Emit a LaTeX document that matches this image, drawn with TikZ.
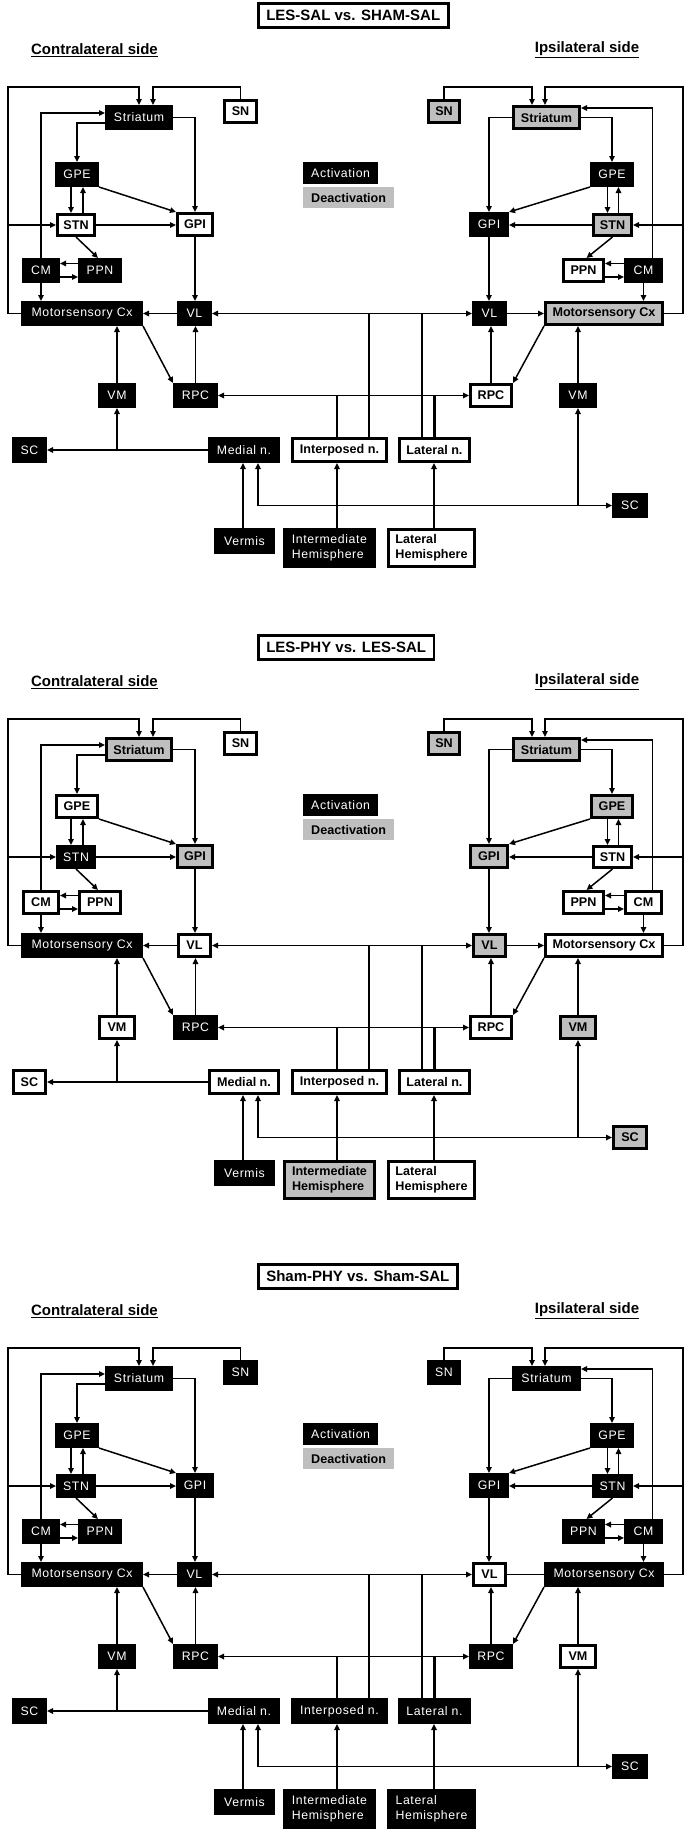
\documentclass[tikz,border=0pt]{standalone}
\usepackage{fontspec}
\setmainfont{Liberation Sans}
\newfontfamily\boxfont[LetterSpace=5]{Liberation Sans}
\usetikzlibrary{arrows.meta,calc}
\tikzset{
  base/.style={rectangle, inner sep=0pt, align=center},
  B/.style={base, fill=black, draw=black, line width=0.6pt, text=white,
    font=\boxfont\fontsize{12.3}{15}\selectfont,
    minimum width={\bw pt-0.6pt}, minimum height={\bh pt-0.6pt}},
  W/.style={base, fill=white, draw=black, line width=2.6pt, text=black,
    font=\fontsize{12.6}{15}\selectfont\bfseries,
    minimum width={\bw pt-2.6pt}, minimum height={\bh pt-2.6pt}},
  G/.style={W, fill=black!25},
  ln/.style={line width=1.5pt, draw=black},
  arr/.style={ln, -{Triangle[length=6pt,width=5.5pt]}},
  darr/.style={ln, {Triangle[length=6pt,width=5.5pt]}-{Triangle[length=6pt,width=5.5pt]}},
  thk/.style={line width=2.6pt, draw=black},
  titlebox/.style={draw=black, line width=2.6pt, fill=white, inner xsep=8pt, inner ysep=0pt,
    minimum height=24.4pt, font=\fontsize{15}{18}\selectfont\bfseries, anchor=west},
  hdr/.style={inner sep=0pt, font=\fontsize{15}{18}\selectfont\bfseries},
  legA/.style={fill=black, text=white, inner xsep=8pt, inner ysep=0pt, minimum height=22pt,
    font=\boxfont\fontsize{12.3}{15}\selectfont, anchor=west},
  legD/.style={fill=black!25, text=black, inner xsep=8pt, inner ysep=0pt, minimum height=21pt,
    font=\fontsize{12.6}{15}\selectfont\bfseries, anchor=west},
}
\newcommand\bx[7][]{\def\bw{#5}\def\bh{#6}\node[c-#2,#1] (#2) at (#3,#4) {#7};}
\newcommand\mypanel[4]{%
\begin{scope}[yshift=-#1pt, name prefix=#3]
\node[titlebox] (T) at (257,15.5) {#2};
\node[hdr] (CS) at (94.5,50) {\underline{Contralateral side}};
\node[hdr] (IS) at (587,50) {\underline{Ipsilateral side}};
\node[legA] (LA) at (303,173) {Activation};
\node[legD] (LD) at (303,197.5) {Deactivation};
% left nodes
\bx{StrL}{139}{117.5}{68}{25}{Striatum}
\bx{SNL}{240.5}{111.5}{35}{25}{SN}
\bx{GPEL}{77}{174.5}{44}{25}{GPE}
\bx{STNL}{76}{225}{40}{24}{STN}
\bx{GPIL}{195}{224.5}{38}{25}{GPI}
\bx{CML}{41}{270.5}{38}{25}{CM}
\bx{PPNL}{100}{270.5}{44}{25}{PPN}
\bx{MCxL}{82}{313.5}{122}{25}{Motorsensory Cx}
\bx{VLL}{194.5}{313.5}{35}{25}{VL}
\bx{RPCL}{195.5}{395.5}{45}{25}{RPC}
\bx{VML}{117}{395.5}{38}{25}{VM}
\bx{SCL}{29.5}{450}{35}{26}{SC}
\bx{Med}{244}{450}{72}{26}{Medial n.}
\bx{Int}{339.5}{450}{97}{26}{Interposed n.}
\bx{Lat}{434.5}{450}{73}{26}{Lateral n.}
\bx{Ver}{244.5}{541}{61}{26}{Vermis}
\bx[align=left]{IH}{329.5}{548}{93}{40}{Intermediate\\Hemisphere}
\bx[align=left]{LH}{431.5}{548}{89}{40}{Lateral\\Hemisphere}
% right nodes
\bx{SNR}{444}{111.5}{34}{25}{SN}
\bx{StrR}{546.5}{117.5}{69}{25}{Striatum}
\bx{GPER}{612}{174.5}{44}{25}{GPE}
\bx{STNR}{612.5}{225}{41}{24}{STN}
\bx{GPIR}{489}{224.5}{40}{25}{GPI}
\bx{PPNR}{583.5}{270.5}{43}{25}{PPN}
\bx{CMR}{643.5}{270.5}{39}{25}{CM}
\bx{VLR}{489.5}{313.5}{35}{25}{VL}
\bx{MCxR}{604}{313.5}{120}{25}{Motorsensory Cx}
\bx{RPCR}{491}{395.5}{44}{25}{RPC}
\bx{VMR}{578}{395.5}{38}{25}{VM}
\bx{SCR}{630}{505.5}{36}{25}{SC}
% left connectors
\draw[arr] (MCxL.west) -| (8,87) -| (StrL.north);
\coordinate (sL) at ([xshift=14pt]StrL.north);
\draw[arr] (SNL.north) |- (sL |- 0,87) -- (sL);
\draw[arr] (CML.north) |- ([yshift=4.5pt]StrL.west);
\draw[arr] ([yshift=-5.5pt]StrL.west) -| (GPEL.north);
\draw[arr] (StrL.east) -| (GPIL.north);
\coordinate (g1) at ([xshift=-6pt]GPEL.south);
\draw[arr] (g1) -- (g1 |- STNL.north);
\coordinate (g2) at ([xshift=6pt]GPEL.south);
\draw[arr] (g2 |- STNL.north) -- (g2);
\draw[arr] (GPEL.south east) -- (GPIL.north west);
\draw[arr] (STNL.east) -- (STNL.east -| GPIL.west);
\draw[arr] (8,0 |- STNL.west) -- (STNL.west);
\draw[arr] (STNL.south) -- ([xshift=-2pt]PPNL.north);
\draw[arr] ([yshift=7pt]PPNL.west) -- ([yshift=7pt]CML.east);
\draw[arr] ([yshift=-6.5pt]CML.east) -- ([yshift=-6.5pt]PPNL.west);
\draw[arr] (CML.south) -- (CML.south |- MCxL.north);
\draw[arr] (GPIL.south) -- (GPIL.south |- VLL.north);
\draw[arr] (VLL.west) -- (MCxL.east);
\draw[darr] (VLL.east) -- (VLR.west);
\draw[darr] (RPCL.east) -- (RPCR.west);
\coordinate (i1) at ([xshift=-2.5pt]Int.north);
\draw[thk] (i1) -- (i1 |- RPCL.east);
\coordinate (i2) at ([xshift=29.5pt]Int.north);
\draw[thk] (i2) -- (i2 |- VLL.east);
\coordinate (l1) at ([xshift=-12.5pt]Lat.north);
\draw[ln] (l1) -- (l1 |- VLL.east);
\coordinate (l2) at (Lat.north);
\draw[thk] (l2) -- (l2 |- RPCL.east);
\draw[arr] (MCxL.south east) -- (RPCL.north west);
\draw[arr] (RPCL.north) -- (RPCL.north |- VLL.south);
\draw[arr] (VML.north) -- (VML.north |- MCxL.south);
\draw[arr] (Med.west) -- (SCL.east);
\draw[arr] (VML.south |- Med.west) -- (VML.south);
\coordinate (v1) at ([xshift=-1.5pt]Ver.north);
\draw[arr] (v1) -- (v1 |- Med.south);
\coordinate (ih) at ([xshift=7.5pt]IH.north);
\draw[arr] (ih) -- (ih |- Int.south);
\coordinate (lh) at ([xshift=2.5pt]LH.north);
\draw[arr] (lh) -- (lh |- Lat.south);
\coordinate (m1) at ([xshift=14pt]Med.south);
\draw[arr] (m1 |- SCR.west) -- (m1);
\draw[arr] (m1 |- SCR.west) -- (SCR.west);
\draw[arr] (VMR.south |- SCR.west) -- (VMR.south);
% right connectors
\draw[arr] (MCxR.east) -| (683,87) -| ([xshift=-1.5pt]StrR.north);
\coordinate (sR) at ([xshift=-14.5pt]StrR.north);
\draw[arr] (SNR.north) |- (sR |- 0,87) -- (sR);
\coordinate (cR) at ([xshift=9pt]CMR.north);
\draw[arr] (cR) |- ([yshift=9.5pt]StrR.east);
\draw[arr] (StrR.west) -| (GPIR.north);
\draw[arr] (StrR.east) -| (GPER.north);
\coordinate (g3) at ([xshift=-4.5pt]GPER.south);
\draw[arr] (g3) -- (g3 |- STNR.north);
\coordinate (g4) at ([xshift=6.5pt]GPER.south);
\draw[arr] (g4 |- STNR.north) -- (g4);
\draw[arr] (GPER.south west) -- (GPIR.north east);
\draw[arr] (STNR.west) -- (STNR.west -| GPIR.east);
\draw[arr] (683,0 |- STNR.east) -- (STNR.east);
\draw[arr] (STNR.south) -- ([xshift=3pt]PPNR.north);
\draw[arr] ([yshift=7pt]CMR.west) -- ([yshift=7pt]PPNR.east);
\draw[arr] ([yshift=-6.5pt]PPNR.east) -- ([yshift=-6.5pt]CMR.west);
\draw[arr] (CMR.south) -- (CMR.south |- MCxR.north);
\draw[arr] (GPIR.south) -- (GPIR.south |- VLR.north);
\draw[#4] (VLR.east) -- (MCxR.west);
\draw[arr] (MCxR.south west) -- (RPCR.north east);
\draw[arr] (RPCR.north) -- (RPCR.north |- VLR.south);
\draw[arr] (VMR.north) -- (VMR.north |- MCxR.south);
\end{scope}}
\begin{document}
\begin{tikzpicture}[x=1pt,y=-1pt]
\useasboundingbox[fill=white] (0,0) rectangle (686,1832);
\tikzset{c-StrL/.style=B, c-SNL/.style=W, c-GPEL/.style=B, c-STNL/.style=W, c-GPIL/.style=W,
 c-CML/.style=B, c-PPNL/.style=B, c-MCxL/.style=B, c-VLL/.style=B, c-RPCL/.style=B,
 c-VML/.style=B, c-SCL/.style=B, c-Med/.style=B, c-Int/.style=W, c-Lat/.style=W,
 c-Ver/.style=B, c-IH/.style=B, c-LH/.style=W,
 c-SNR/.style=G, c-StrR/.style=G, c-GPER/.style=B, c-STNR/.style=G, c-GPIR/.style=B,
 c-PPNR/.style=W, c-CMR/.style=B, c-VLR/.style=B, c-MCxR/.style=G, c-RPCR/.style=W,
 c-VMR/.style=B, c-SCR/.style=B}
\mypanel{0}{LES-SAL vs. SHAM-SAL}{p1-}{arr}
\tikzset{c-StrL/.style=G, c-SNL/.style=W, c-GPEL/.style=W, c-STNL/.style=B, c-GPIL/.style=G,
 c-CML/.style=W, c-PPNL/.style=W, c-MCxL/.style=B, c-VLL/.style=W, c-RPCL/.style=B,
 c-VML/.style=W, c-SCL/.style=W, c-Med/.style=W, c-Int/.style=W, c-Lat/.style=W,
 c-Ver/.style=B, c-IH/.style=G, c-LH/.style=W,
 c-SNR/.style=G, c-StrR/.style=G, c-GPER/.style=G, c-STNR/.style=W, c-GPIR/.style=G,
 c-PPNR/.style=W, c-CMR/.style=W, c-VLR/.style=G, c-MCxR/.style=W, c-RPCR/.style=W,
 c-VMR/.style=G, c-SCR/.style=G}
\mypanel{632}{LES-PHY vs. LES-SAL}{p2-}{arr}
\tikzset{c-StrL/.style=B, c-SNL/.style=B, c-GPEL/.style=B, c-STNL/.style=B, c-GPIL/.style=B,
 c-CML/.style=B, c-PPNL/.style=B, c-MCxL/.style=B, c-VLL/.style=B, c-RPCL/.style=B,
 c-VML/.style=B, c-SCL/.style=B, c-Med/.style=B, c-Int/.style=B, c-Lat/.style=B,
 c-Ver/.style=B, c-IH/.style=B, c-LH/.style=B,
 c-SNR/.style=B, c-StrR/.style=B, c-GPER/.style=B, c-STNR/.style=B, c-GPIR/.style=B,
 c-PPNR/.style=B, c-CMR/.style=B, c-VLR/.style=W, c-MCxR/.style=B, c-RPCR/.style=B,
 c-VMR/.style=W, c-SCR/.style=B}
\mypanel{1261}{Sham-PHY vs. Sham-SAL}{p3-}{ln}
\end{tikzpicture}
\end{document}
